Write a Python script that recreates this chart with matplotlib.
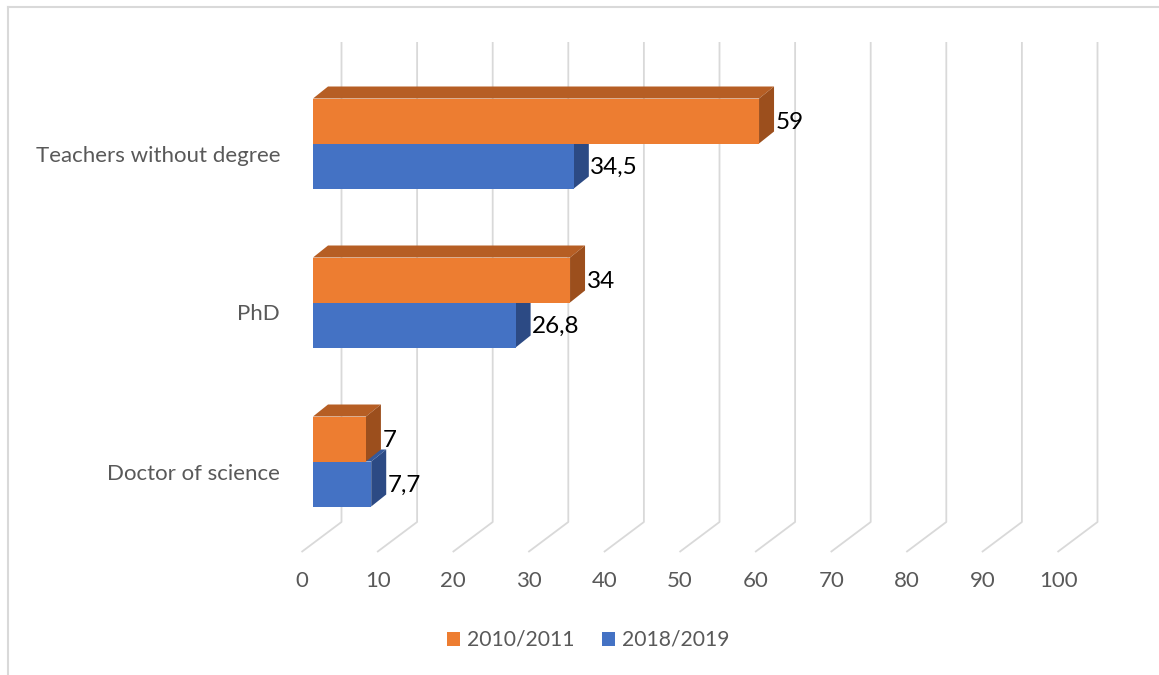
import matplotlib
matplotlib.use("Agg")
import matplotlib.pyplot as plt
from matplotlib.patches import Polygon, Patch
from matplotlib.lines import Line2D

plt.rcParams['font.family'] = ['Lato', 'DejaVu Sans']

# ---- data ----
categories = ["Doctor of science", "PhD", "Teachers without degree"]
series_names = ["2010/2011", "2018/2019"]
values_2010 = [7, 34, 59]
values_2019 = [7.7, 26.8, 34.5]
value_labels_2010 = ["7", "34", "59"]
value_labels_2019 = ["7,7", "26,8", "34,5"]
ticks = [0, 10, 20, 30, 40, 50, 60, 70, 80, 90, 100]

# ---- styles ----
front_cols = ["#ED7D31", "#4472C4"]
side_cols = ["#9C4F1D", "#2C4A84"]
top_cols = ["#B65E24", "#35599A"]
grid_col = "#D9D9D9"
text_col = "#595959"

W, H = 1159, 675
fig = plt.figure(figsize=(W / 100, H / 100), dpi=100)
ax = fig.add_axes([0, 0, 1, 1])
ax.axis("off")

# scale: pixels per unit
ppu_x = 7.56
ppu_y = 159.0
x0_px = 313.0
y0_px = 461.5
ax.set_xlim(-x0_px / ppu_x, (W - x0_px) / ppu_x)
ax.set_ylim((y0_px - H) / ppu_y, y0_px / ppu_y)

def px2y(py):
    return (y0_px - py) / ppu_y

bar_h = 45.0 / ppu_y
ddx = 15.0 / ppu_x
ddy = 12.0 / ppu_y

# gridlines (back wall + floor)
wall_dx = 28.5 / ppu_x
floor_dx = -40.0 / ppu_x
y_top = px2y(42)
y_wall_bot = px2y(522)
y_floor_front = px2y(552)
for t in ticks:
    ax.plot([t + wall_dx, t + wall_dx, t + wall_dx + floor_dx],
            [y_top, y_wall_bot, y_floor_front],
            color=grid_col, lw=1.3, zorder=1, solid_capstyle="butt")
    ax.text(t - 1.45, px2y(581), str(t), ha="center", va="center",
            fontsize=16, color=text_col)

def draw_bar(v, yb, s):
    yt = yb + bar_h
    front = Polygon([(0, yb), (v, yb), (v, yt), (0, yt)], closed=True,
                    facecolor=front_cols[s], edgecolor="none", zorder=3)
    side = Polygon([(v, yb), (v + ddx, yb + ddy), (v + ddx, yt + ddy), (v, yt)],
                   closed=True, facecolor=side_cols[s], edgecolor="none", zorder=3)
    top = Polygon([(0, yt), (v, yt), (v + ddx, yt + ddy), (ddx, yt + ddy)],
                  closed=True, facecolor=top_cols[s], edgecolor="none", zorder=3)
    for p in (top, side, front):
        ax.add_patch(p)

for i, cat in enumerate(categories):
    yc = i
    draw_bar(values_2019[i], yc - bar_h, 1)
    draw_bar(values_2010[i], yc, 0)
    ax.text(values_2010[i] + ddx + 0.2, yc + bar_h / 2 - 1.5 / ppu_y,
            value_labels_2010[i], ha="left", va="center", fontsize=17.5, color="black", zorder=5)
    ax.text(values_2019[i] + ddx + 0.2, yc - bar_h / 2 - 1.5 / ppu_y,
            value_labels_2019[i], ha="left", va="center", fontsize=17.5, color="black", zorder=5)
    ax.text(-33.0 / ppu_x, yc - 12.0 / ppu_y, cat, ha="right", va="center",
            fontsize=16, color=text_col)

handles = [Patch(facecolor=front_cols[0]), Patch(facecolor=front_cols[1])]
leg = fig.legend(handles, series_names, loc="center", ncol=2,
                 bbox_to_anchor=(588 / W, 1 - 640 / H), frameon=False,
                 fontsize=15.2, handlelength=0.65, handleheight=0.65,
                 handletextpad=0.3, columnspacing=1.3, labelcolor=text_col)

# chart border (top and left visible)
fig.add_artist(Line2D([7.5 / W, 1], [1 - 6.5 / H, 1 - 6.5 / H], color=grid_col, lw=1.5,
                      transform=fig.transFigure))
fig.add_artist(Line2D([7.5 / W, 7.5 / W], [0, 1 - 6.5 / H], color=grid_col, lw=1.5,
                      transform=fig.transFigure))

fig.savefig("out.png", dpi=100, facecolor="white")
